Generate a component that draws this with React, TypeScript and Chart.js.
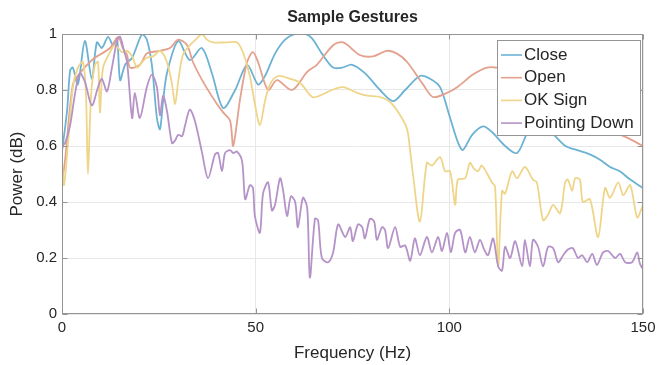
import { useEffect, useRef } from "react";
import { Chart, registerables } from "chart.js";

Chart.register(...registerables);

const FONT = '"Liberation Sans", Arial, Helvetica, sans-serif';
const TEXT = "#262626";
const AXIS = "#949494";
const GRID = "#e8e8e8";

const chartTitle = "Sample Gestures";
const xTitle = "Frequency (Hz)";
const yTitle = "Power (dB)";
const xTicks = [0, 50, 100, 150];
const yTicks = [0, 0.2, 0.4, 0.6, 0.8, 1];

const seriesNames = ["Close", "Open", "OK Sign", "Pointing Down"];
const seriesColors = ["#6cb2d3", "#e3a18e", "#efd58a", "#b592c8"];

const closeHz = [0, 1.3, 2.1, 2.8, 4.1, 5.9, 7.7, 9.0, 10.3, 11.9, 13.2, 14.2, 15.0, 16.3, 18.1, 20.7, 21.9, 23.2, 24.5, 25.3, 26.1, 27.1, 30.0, 33.0, 36.1, 38.7, 41.6, 44.7, 47.8, 50.6, 52.4, 55.0, 57.6, 60.2, 62.7, 64.5, 67.1, 70.0, 72.3, 74.9, 78.2, 82.1, 85.5, 88.6, 92.4, 95.0, 97.6, 100.2, 102.3, 103.5, 105.9, 108.7, 111.0, 114.4, 117.5, 120.8, 124.7, 127.0, 130.0, 133.0, 136.3, 139.0, 141.5, 144.0, 146.7, 150];
const closePower = [0.58, 0.725, 0.87, 0.88, 0.82, 0.975, 0.84, 0.97, 0.95, 0.99, 0.96, 0.985, 0.835, 0.89, 0.915, 1.0, 0.98, 0.89, 0.7, 0.66, 0.76, 0.86, 0.975, 0.907, 0.95, 0.86, 0.736, 0.8, 0.89, 0.82, 0.85, 0.93, 0.98, 1.0, 1.0, 0.985, 0.93, 0.88, 0.88, 0.89, 0.86, 0.8, 0.76, 0.8, 0.85, 0.84, 0.81, 0.7, 0.61, 0.586, 0.64, 0.67, 0.65, 0.6, 0.575, 0.66, 0.67, 0.64, 0.6, 0.585, 0.57, 0.55, 0.525, 0.51, 0.48, 0.45];

const openHz = [0, 0.8, 2.8, 4.6, 8.0, 12.4, 14.5, 15.7, 16.8, 17.6, 20.1, 21.9, 25.3, 27.9, 30.0, 32.3, 33.8, 36.4, 40.0, 41.6, 43.4, 44.2, 46.0, 47.8, 49.3, 50.6, 53.2, 55.5, 59.4, 63.3, 65.8, 70.0, 72.6, 76.9, 80.3, 83.9, 86.5, 89.1, 93.2, 95.8, 99.4, 102.0, 106.1, 109.7, 112.3, 118.3, 124.7, 131.2, 138.1, 142.8, 145.9, 150];
const openPower = [0.47, 0.55, 0.82, 0.86, 0.91, 0.95, 0.99, 0.95, 0.925, 0.88, 0.89, 0.93, 0.94, 0.95, 0.98, 0.96, 0.9, 0.83, 0.75, 0.72, 0.69, 0.6, 0.77, 0.9, 0.935, 0.9, 0.8, 0.835, 0.8, 0.865, 0.89, 0.96, 0.97, 0.925, 0.92, 0.94, 0.93, 0.9, 0.82, 0.775, 0.79, 0.81, 0.855, 0.88, 0.88, 0.87, 0.84, 0.78, 0.7, 0.65, 0.63, 0.6];

const okHz = [0, 0.5, 1.5, 2.8, 4.1, 5.4, 6.2, 6.7, 7.5, 8.5, 9.3, 9.8, 10.6, 12.4, 13.7, 15.5, 16.8, 18.1, 19.4, 20.7, 21.9, 23.5, 25.3, 27.1, 28.4, 29.2, 30.0, 31.2, 33.0, 34.9, 36.1, 37.4, 39.0, 42.6, 45.2, 46.7, 48.5, 49.8, 51.1, 52.4, 53.7, 55.8, 58.9, 61.5, 64.6, 66.6, 69.7, 72.6, 76.2, 78.8, 82.1, 84.7, 87.3, 89.1, 89.9, 90.6, 92.4, 94.2, 95.5, 97.6, 98.9, 100.2, 101.5, 102.2, 104.1, 105.3, 106.3, 107.4, 108.4, 111.0, 111.8, 112.6, 113.6, 114.4, 116.2, 117.5, 119.5, 121.6, 122.6, 124.2, 125.5, 126.8, 128.6, 129.9, 130.6, 131.7, 132.5, 133.7, 134.5, 136.3, 138.4, 140.2, 141.5, 143.6, 144.9, 146.7, 148.5, 150];
const okPower = [0.55, 0.46, 0.6, 0.81, 0.88, 0.9, 0.78, 0.5, 0.78, 0.89, 0.9, 0.72, 0.88, 0.935, 0.96, 0.935, 0.94, 0.92, 0.88, 0.9, 0.915, 0.92, 0.94, 0.9, 0.82, 0.75, 0.83, 0.925, 0.96, 0.985, 1.0, 0.98, 0.97, 0.97, 0.97, 0.935, 0.85, 0.75, 0.675, 0.76, 0.82, 0.85, 0.84, 0.825, 0.775, 0.78, 0.8, 0.81, 0.79, 0.78, 0.775, 0.757, 0.71, 0.66, 0.58, 0.5, 0.33, 0.54, 0.53, 0.56, 0.51, 0.51, 0.39, 0.48, 0.485, 0.54, 0.52, 0.51, 0.53, 0.47, 0.455, 0.17, 0.44, 0.43, 0.51, 0.485, 0.525, 0.48, 0.47, 0.335, 0.355, 0.39, 0.36, 0.47, 0.48, 0.44, 0.485, 0.48, 0.4, 0.41, 0.275, 0.45, 0.415, 0.47, 0.425, 0.46, 0.345, 0.39];

const downHz = [0, 0.8, 2.1, 3.4, 4.6, 5.9, 7.7, 9.3, 10.3, 11.6, 12.9, 14.2, 15.0, 16.0, 16.8, 18.1, 18.8, 20.1, 21.9, 23.2, 24.5, 25.3, 26.1, 27.1, 28.4, 29.2, 30.0, 31.0, 31.8, 33.0, 34.3, 36.1, 37.7, 39.5, 40.3, 41.3, 42.1, 43.4, 44.2, 45.2, 46.5, 47.3, 48.5, 49.3, 49.8, 51.1, 51.9, 53.2, 54.2, 55.0, 56.3, 57.1, 58.1, 59.1, 60.2, 60.9, 62.2, 63.3, 64.0, 65.3, 66.1, 67.1, 68.7, 70.0, 71.3, 73.1, 74.4, 75.1, 76.4, 77.5, 78.2, 79.5, 80.6, 81.3, 82.6, 83.4, 84.2, 86.0, 87.3, 88.6, 89.9, 91.1, 92.4, 94.2, 95.5, 97.1, 98.1, 99.4, 100.4, 101.5, 102.8, 104.1, 105.3, 106.6, 107.9, 109.0, 110.0, 111.3, 112.6, 113.6, 114.4, 115.7, 117.0, 118.8, 119.5, 120.8, 121.6, 122.9, 124.2, 125.5, 126.8, 128.1, 129.4, 130.6, 131.9, 133.2, 134.3, 135.6, 136.9, 138.1, 139.7, 141.0, 142.8, 144.1, 145.4, 147.2, 148.5, 149.2, 150];
const downPower = [0.6, 0.61, 0.675, 0.79, 0.86, 0.83, 0.745, 0.81, 0.84, 0.795, 0.88, 0.975, 0.99, 0.94, 0.9, 0.7, 0.79, 0.7, 0.81, 0.855, 0.81, 0.71, 0.78, 0.725, 0.61, 0.62, 0.64, 0.635, 0.675, 0.73, 0.69, 0.58, 0.485, 0.57, 0.575, 0.51, 0.575, 0.585, 0.575, 0.58, 0.545, 0.41, 0.46, 0.45, 0.35, 0.29, 0.43, 0.47, 0.37, 0.39, 0.485, 0.44, 0.35, 0.42, 0.4, 0.31, 0.415, 0.38, 0.13, 0.34, 0.335, 0.2, 0.185, 0.22, 0.32, 0.275, 0.31, 0.26, 0.32, 0.31, 0.27, 0.34, 0.33, 0.265, 0.31, 0.3, 0.235, 0.31, 0.24, 0.245, 0.19, 0.27, 0.21, 0.275, 0.22, 0.275, 0.225, 0.29, 0.22, 0.29, 0.3, 0.22, 0.275, 0.22, 0.265, 0.23, 0.21, 0.27, 0.17, 0.155, 0.24, 0.2, 0.26, 0.17, 0.265, 0.17, 0.265, 0.24, 0.17, 0.24, 0.235, 0.185, 0.21, 0.23, 0.235, 0.2, 0.21, 0.185, 0.215, 0.175, 0.22, 0.225, 0.2, 0.215, 0.185, 0.185, 0.22, 0.18, 0.16];

const seriesHz = [closeHz, openHz, okHz, downHz];
const seriesPower = [closePower, openPower, okPower, downPower];

const frameLegendPlugin = {
  id: "frameLegend",
  afterDatasetsDraw(chart: any) {
    const { ctx, chartArea: a, scales } = chart;
    ctx.save();
    ctx.strokeStyle = AXIS;
    ctx.lineWidth = 1;
    const L = Math.round(a.left) + 0.5;
    const R = Math.round(a.right) - 0.5;
    const T = Math.round(a.top) + 0.5;
    const B = Math.round(a.bottom) - 0.5;
    ctx.strokeRect(L, T, R - L, B - T);
    const tl = 5;
    ctx.beginPath();
    for (const v of xTicks) {
      const x = Math.round(scales.x.getPixelForValue(v)) + 0.5;
      ctx.moveTo(x, B);
      ctx.lineTo(x, B - tl);
      ctx.moveTo(x, T);
      ctx.lineTo(x, T + tl);
    }
    for (const v of yTicks) {
      const y = Math.round(scales.y.getPixelForValue(v)) + 0.5;
      ctx.moveTo(L, y);
      ctx.lineTo(L + tl, y);
      ctx.moveTo(R, y);
      ctx.lineTo(R - tl, y);
    }
    ctx.stroke();

    // title centred over the plot area
    ctx.fillStyle = TEXT;
    ctx.font = `bold 16px ${FONT}`;
    ctx.textAlign = "center";
    ctx.textBaseline = "middle";
    ctx.fillText(chartTitle, (a.left + a.right) / 2, 18);

    // legend inside the plot, top right
    const w = 143;
    const h = 95;
    const lx = Math.round(a.right) - 3 - w;
    const ly = Math.round(a.top) + 6;
    ctx.fillStyle = "#ffffff";
    ctx.fillRect(lx, ly, w, h);
    ctx.strokeStyle = AXIS;
    ctx.lineWidth = 1;
    ctx.strokeRect(lx + 0.5, ly + 0.5, w, h);
    ctx.font = `17px ${FONT}`;
    ctx.textBaseline = "middle";
    ctx.textAlign = "left";
    seriesNames.forEach((name, i) => {
      const y = ly + 15 + i * 22.7;
      ctx.strokeStyle = seriesColors[i];
      ctx.lineWidth = 1.6;
      ctx.beginPath();
      ctx.moveTo(lx + 4, y);
      ctx.lineTo(lx + 25, y);
      ctx.stroke();
      ctx.fillStyle = TEXT;
      ctx.fillText(name, lx + 27, y);
    });
    ctx.restore();
  },
};

export default function App() {
  const canvasRef = useRef<HTMLCanvasElement | null>(null);

  useEffect(() => {
    const canvas = canvasRef.current;
    if (!canvas) return;
    const chart = new Chart(canvas, {
      type: "line",
      data: {
        datasets: seriesNames.map((name, i) => ({
          label: name,
          data: seriesHz[i].map((x, j) => ({ x, y: seriesPower[i][j] })),
          borderColor: seriesColors[i],
          backgroundColor: seriesColors[i],
          borderWidth: 1.8,
          pointRadius: 0,
          tension: 0.3,
          fill: false,
          order: 3 - i,
        })),
      },
      options: {
        responsive: false,
        animation: false,
        devicePixelRatio: 1,
        layout: { padding: { left: 0, right: 18, top: 34, bottom: 0 } },
        plugins: {
          legend: { display: false },
          tooltip: { enabled: false },
          title: { display: false },
        },
        scales: {
          x: {
            type: "linear",
            min: 0,
            max: 150,
            afterBuildTicks: (s: any) => {
              s.ticks = xTicks.map((v) => ({ value: v }));
            },
            afterFit: (s: any) => {
              s.height = 51;
            },
            grid: { color: GRID, drawTicks: false },
            border: { display: false },
            ticks: {
              color: TEXT,
              font: { family: FONT, size: 15 },
              padding: 5,
              maxRotation: 0,
              callback: (v: any) => String(v),
            },
            title: {
              display: true,
              text: xTitle,
              color: TEXT,
              font: { family: FONT, size: 17 },
              padding: { top: 0, bottom: 1 },
            },
          },
          y: {
            type: "linear",
            min: 0,
            max: 1,
            afterBuildTicks: (s: any) => {
              s.ticks = yTicks.map((v) => ({ value: v }));
            },
            afterFit: (s: any) => {
              s.width = 62;
            },
            grid: { color: GRID, drawTicks: false },
            border: { display: false },
            ticks: {
              color: TEXT,
              font: { family: FONT, size: 15 },
              padding: 5,
              callback: (v: any) => String(v),
            },
            title: {
              display: true,
              text: yTitle,
              color: TEXT,
              font: { family: FONT, size: 17 },
              padding: { top: 7, bottom: 0 },
            },
          },
        },
      },
      plugins: [frameLegendPlugin],
    } as any);
    return () => chart.destroy();
  }, []);

  return (
    <div style={{ position: "absolute", left: 0, top: 0, width: 661, height: 365, background: "#fff" }}>
      <canvas ref={canvasRef} width={661} height={365} />
    </div>
  );
}
